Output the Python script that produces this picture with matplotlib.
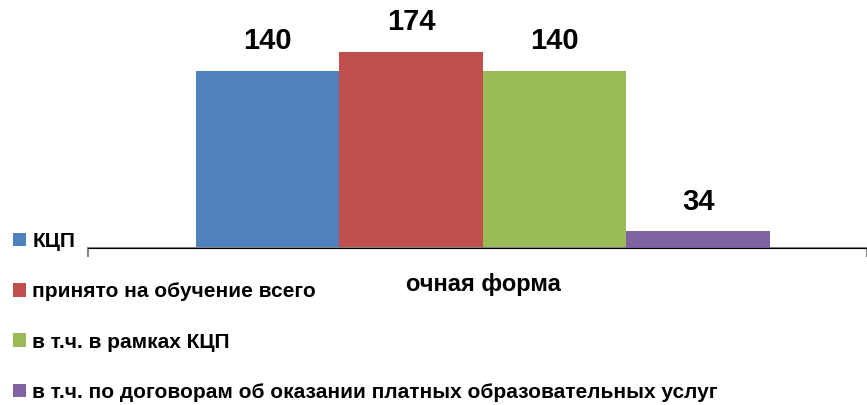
import matplotlib.pyplot as plt
import numpy as np

plt.rcParams['font.family'] = ['Liberation Sans', 'DejaVu Sans']

category = "очная форма"
series_names = ["КЦП", "принято на обучение всего", "в т.ч. в рамках КЦП",
                "в т.ч. по договорам об оказании платных образовательных услуг"]
main_values = [140, 174, 140]   # first three series, primary axis
extra_value = 34                # last series, secondary axis
colors = ["#4F81BD", "#C0504D", "#9BBB59", "#8064A2"]

fig = plt.figure(figsize=(8.67, 4.05), dpi=100)
ax = fig.add_axes([88 / 867, 1 - 248 / 405, 779 / 867, 248 / 405])
ax2 = ax.twinx()

# axis ranges (primary does not start at zero, like the original)
floor = -176.7
ax.set_ylim(floor, floor + 443.8)
ax2.set_ylim(0, 496)
ax.set_xlim(-0.507, 0.493)

w = 0.1842
offsets = np.array([-1.5, -0.5, 0.5, 1.5]) * w
handles = []
for i, v in enumerate(main_values):
    b = ax.bar(offsets[i], v - floor, bottom=floor, width=w, color=colors[i],
               label=series_names[i])
    handles.append(b)
    ax.text(offsets[i], v + 29, str(v), ha='center', va='bottom',
            fontsize=21, fontweight='bold')
b = ax2.bar(offsets[3], extra_value, width=w, color=colors[3], label=series_names[3])
handles.append(b)
ax2.text(offsets[3], extra_value + 30, str(extra_value), ha='center', va='bottom',
         fontsize=21, fontweight='bold')

for a in (ax, ax2):
    for s in ['top', 'right', 'left']:
        a.spines[s].set_visible(False)
    a.set_yticks([])
ax.spines['bottom'].set_color('#888888')
ax.spines['bottom'].set_linewidth(1.5)
ax.set_xticks([-0.507, 0.493])
ax.set_xticklabels([])
ax.tick_params(axis='x', length=6.5, width=1.5, color='#888888', direction='out')
ax.text(0.0, -0.147, category, transform=ax.get_xaxis_transform(), ha='center',
        va='center', fontsize=17, fontweight='bold')

fig.legend(handles=handles, labels=series_names, loc='upper left',
           bbox_to_anchor=(13 / 867, 1 - 232 / 405), frameon=False,
           labelspacing=1.5, handlelength=0.63, handleheight=0.63,
           handletextpad=0.3, borderpad=0, borderaxespad=0,
           prop={'weight': 'bold', 'size': 15})

fig.savefig("out.png", dpi=100)
